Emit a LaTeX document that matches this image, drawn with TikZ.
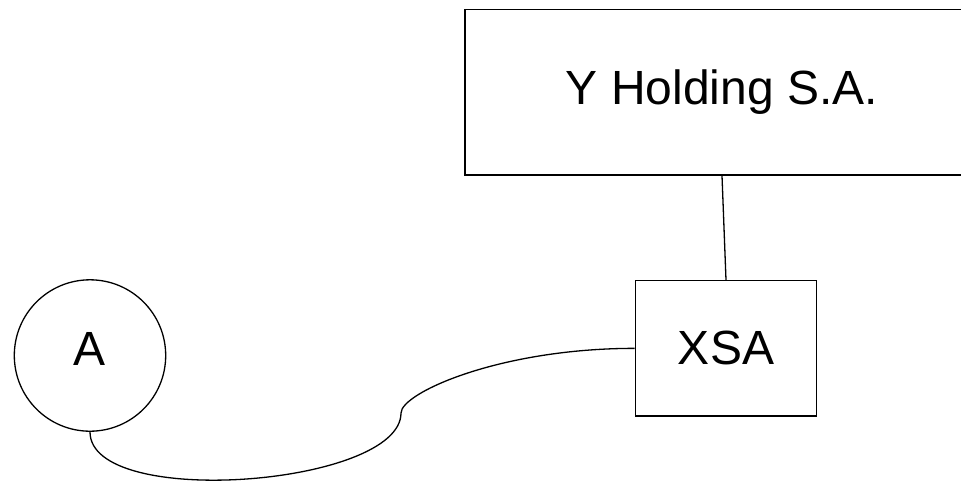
\documentclass[tikz,border=0pt]{standalone}
\usepackage{fontspec}
\setmainfont{Liberation Sans}
\begin{document}
\begin{tikzpicture}[x=1pt,y=-1pt,
  every node/.style={font=\fontsize{48}{58}\selectfont, inner sep=0pt},
  boxnode/.style={draw, line width=1.3pt, rectangle},
  ringnode/.style={draw, line width=1.3pt, circle},
  link/.style={line width=1.3pt}]
\useasboundingbox (0,0) rectangle (961,480);
\clip (0,0) rectangle (961,480);
\fill[white] (0,0) rectangle (961,480);
\node[boxnode, minimum width=514pt, minimum height=165.5pt] (Y) at (722,92.25) {Y Holding S.A.};
\node[boxnode, minimum width=181.4pt, minimum height=135.3pt] (XSA) at (726,348.35) {XSA};
\node[ringnode, minimum size=151.4pt] (A) at (90,355.5) {};
\node (Atext) at (90,349) {A};
\coordinate (m) at (401,413);
\draw[link] (Y.south) -- (XSA.north);
\draw[link] (A.south) .. controls +(0,78) and +(0,73) .. (m)
  .. controls +(0,-20) and +(-135,0) .. (XSA.west);
\end{tikzpicture}
\end{document}
